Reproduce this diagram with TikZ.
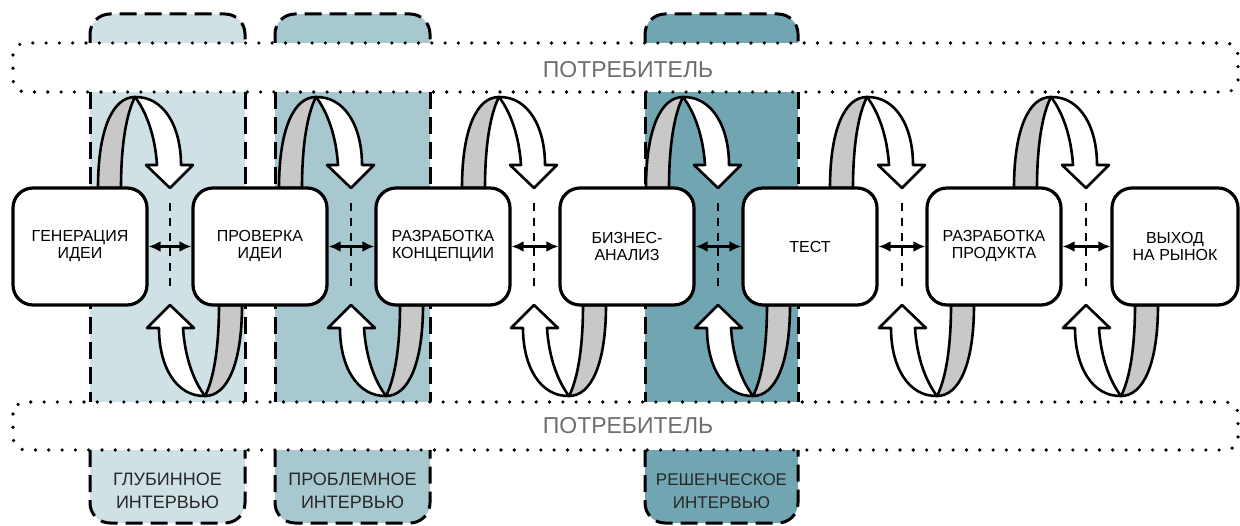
\documentclass[tikz,border=0pt]{standalone}
\usepackage{fontspec}
\setmainfont{Liberation Sans}
\usetikzlibrary{arrows.meta}
\definecolor{colA}{RGB}{207,225,229}
\definecolor{colB}{RGB}{166,200,206}
\definecolor{colC}{RGB}{113,165,178}
\definecolor{ribgray}{RGB}{200,200,200}
\definecolor{bandtext}{RGB}{110,110,110}
\definecolor{labtext}{RGB}{40,40,40}
\tikzset{
 stagebox/.style={draw=black, fill=white, line width=3.2pt, rounded corners=20pt, minimum width=134pt, minimum height=117pt, align=center, font=\fontsize{16}{17}\selectfont, inner sep=0pt},
 coldash/.style={line width=3pt, dash pattern=on 17pt off 8pt},
 banddot/.style={line width=3.6pt, line cap=round, dash pattern=on 0pt off 13.3pt, rounded corners=12pt},
 gapline/.style={line width=2.4pt, dash pattern=on 8pt off 7pt},
 dblarrow/.style={line width=2.4pt, {Latex[length=12pt,width=11pt]}-{Latex[length=12pt,width=11pt]}},
 ribbon/.style={line width=2.6pt, line join=round},
 bandlabel/.style={text=bandtext, font=\fontsize{23}{26}\selectfont},
 collabel/.style={text=labtext, align=center, font=\fontsize{18}{23}\selectfont},
 loopar/.pic={
  \filldraw[ribbon, fill=ribgray] (-72,-58.5) .. controls (-72,-118) and (-57,-149.5) .. (-35,-149.5) .. controls (-44,-132) and (-49,-100) .. (-49,-58.5) -- cycle;
  \filldraw[ribbon, fill=white] (-35,-149.5) .. controls (-6,-150) and (11,-120) .. (11,-81.5) -- (23,-81.5) -- (0,-58.5) -- (-24,-81.5) -- (-13,-81.5) .. controls (-15,-112) and (-24,-135) .. (-35,-149.5) -- cycle;
 }
}
\begin{document}
\begin{tikzpicture}[x=1pt,y=-1pt]
\useasboundingbox (0,0) rectangle (1240,526);
% column fills
\fill[colA, rounded corners=20pt] (90,14) rectangle (245,523);
\fill[colB, rounded corners=20pt] (275,14) rectangle (430,523);
\fill[colC, rounded corners=20pt] (645,14) rectangle (798,523);
% white bands
\fill[white] (13,43) rectangle (1240,92);
\fill[white] (13,402) rectangle (1240,450);
% column dashed borders
\foreach \xa/\xb in {90/245, 275/430, 645/798}{
  \draw[coldash, rounded corners=20pt] (\xa,43) -- (\xa,14) -- (\xb,14) -- (\xb,43);
  \draw[coldash] (\xa,92) -- (\xa,402);
  \draw[coldash] (\xb,92) -- (\xb,402);
  \draw[coldash, rounded corners=20pt] (\xa,450) -- (\xa,523) -- (\xb,523) -- (\xb,450);
}
% dotted bands
\draw[banddot] (13,43) rectangle (1238,92);
\draw[banddot] (13,402) rectangle (1238,450);
\node[bandlabel] (ct) at (628,70) {ПОТРЕБИТЕЛЬ};
\node[bandlabel] (cb) at (628,426) {ПОТРЕБИТЕЛЬ};
% gap lines and loop arrows
\foreach \g [count=\i] in {170,351,534,718,902,1086}{
  \coordinate (gt\i) at (\g,203);
  \coordinate (gb\i) at (\g,292);
  \draw[gapline] (gt\i) -- (gb\i);
  \pic at (\g,246.5) {loopar};
  \pic[rotate=180] at (\g,246.5) {loopar};
}
% stage boxes
\node[stagebox] (b1) at (80,246.5) {ГЕНЕРАЦИЯ\\ИДЕИ};
\node[stagebox] (b2) at (260,246.5) {ПРОВЕРКА\\ИДЕИ};
\node[stagebox] (b3) at (443,246.5) {РАЗРАБОТКА\\КОНЦЕПЦИИ};
\node[stagebox] (b4) at (627,246.5) {БИЗНЕС-\\АНАЛИЗ};
\node[stagebox] (b5) at (810,246.5) {ТЕСТ};
\node[stagebox] (b6) at (994,246.5) {РАЗРАБОТКА\\ПРОДУКТА};
\node[stagebox, minimum width=126pt] (b7) at (1175,246.5) {ВЫХОД\\НА РЫНОК};
% double arrows
\foreach \a/\b in {b1/b2,b2/b3,b3/b4,b4/b5,b5/b6,b6/b7}{
  \draw[dblarrow] (\a.east) -- (\b.west);
}
% column labels
\node[collabel] (l1) at (167.5,491) {ГЛУБИННОЕ\\ИНТЕРВЬЮ};
\node[collabel] (l2) at (352.5,491) {ПРОБЛЕМНОЕ\\ИНТЕРВЬЮ};
\node[collabel, font=\fontsize{17}{23}\selectfont] (l3) at (721.5,491) {РЕШЕНЧЕСКОЕ\\ИНТЕРВЬЮ};
\end{tikzpicture}
\end{document}
